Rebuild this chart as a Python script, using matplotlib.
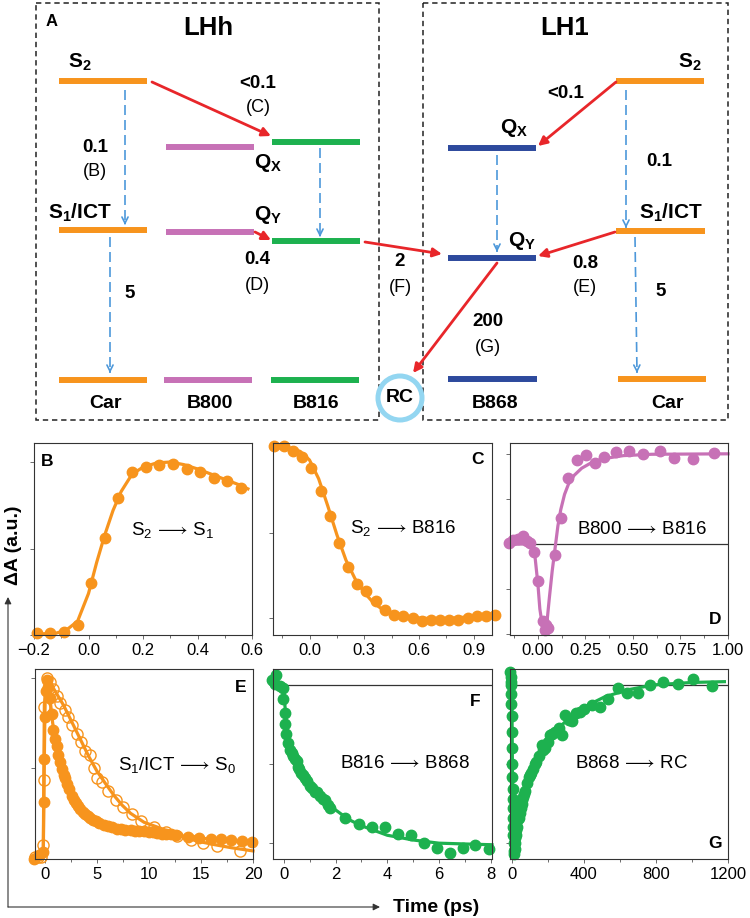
import matplotlib
matplotlib.use("Agg")
import matplotlib.pyplot as plt
from matplotlib.patches import Circle, Rectangle

plt.rcParams['font.family'] = ['Liberation Sans', 'DejaVu Sans']
plt.rcParams['mathtext.fontset'] = 'custom'
plt.rcParams['mathtext.rm'] = 'Liberation Sans'
plt.rcParams['mathtext.bf'] = 'Liberation Sans:bold'
plt.rcParams['mathtext.it'] = 'Liberation Sans:italic'
plt.rcParams['mathtext.fallback'] = 'stixsans'

ORANGE = '#f7941d'
PINK = '#c771b6'
GREEN = '#1db14f'
BLUE = '#2d4a9d'
RED = '#e8262a'
LBLUE = '#4d98da'
RCBLUE = '#93d6f1'

# ---- panel A: energy levels (pixel layout of the scheme) ----
levels = [  # x0, x1, y, colour
    (59, 147, 81, ORANGE), (59, 147, 230, ORANGE), (59, 147, 380, ORANGE),
    (166, 254, 147, PINK), (166, 254, 232, PINK), (164, 252, 380, PINK),
    (272, 360, 142, GREEN), (272, 360, 241, GREEN), (271, 359, 380, GREEN),
    (448, 536, 148, BLUE), (448, 536, 258, BLUE), (448, 537, 379, BLUE),
    (616, 704, 81, ORANGE), (616, 705, 231, ORANGE), (618, 706, 379, ORANGE),
]
red_arrows = [((152, 82), (271, 136)), ((255, 232), (271, 240)),
              ((365, 242), (442, 254)), ((616, 82), (538, 146)),
              ((615, 232), (538, 256)), ((497, 263), (413, 373))]
blue_arrows = [((125, 90), (125, 225)), ((110, 237), (110, 373)),
               ((320, 148), (320, 237)), ((497, 155), (497, 252)),
               ((626, 90), (626, 228)), ((635, 237), (637, 373))]
bold_labels = [('A', 52, 22, 12), ('LHh', 208, 28, 18.5), ('LH1', 565, 28, 18.5),
               (r'$\mathbf{S_2}$', 80, 62, 15), (r'$\mathbf{S_1/ICT}$', 80, 213, 15),
               (r'$\mathbf{Q_X}$', 268, 163, 15), (r'$\mathbf{Q_Y}$', 268, 215, 15),
               (r'$\mathbf{S_2}$', 690, 62, 15), (r'$\mathbf{S_1/ICT}$', 671, 213, 15),
               (r'$\mathbf{Q_X}$', 514, 128, 15), (r'$\mathbf{Q_Y}$', 522, 241, 15),
               ('<0.1', 258, 83, 13.5), ('0.1', 95, 148, 13.5), ('0.4', 257, 260, 13.5),
               ('5', 130, 293, 13.5), ('2', 400, 262, 13.5), ('<0.1', 566, 93, 13.5),
               ('0.1', 659, 161, 13.5), ('0.8', 585, 263, 13.5), ('5', 661, 292, 13.5),
               ('200', 488, 322, 13.5),
               ('Car', 105, 403, 14), ('B800', 210, 403, 14), ('B816', 316, 403, 14),
               ('RC', 400, 398, 14), ('B868', 495, 403, 14), ('Car', 667, 403, 14)]
plain_labels = [('(C)', 258, 108), ('(B)', 95, 172), ('(D)', 257, 285),
                ('(F)', 400, 287), ('(E)', 585, 288), ('(G)', 488, 347)]

# ---- kinetic traces ----
b_t = [-0.19, -0.14, -0.09, -0.04, 0.01, 0.06, 0.11, 0.16, 0.21, 0.26, 0.31, 0.36, 0.41, 0.46, 0.51, 0.56]
b_v = [0.01, 0.01, 0.02, 0.06, 0.30, 0.56, 0.79, 0.94, 0.97, 0.98, 0.99, 0.96, 0.94, 0.91, 0.89, 0.85]
bfit_t = [-0.2, -0.12, -0.08, -0.04, 0.0, 0.03, 0.06, 0.09, 0.12, 0.16, 0.2, 0.25, 0.3, 0.35, 0.4, 0.45, 0.5, 0.55, 0.585]
bfit_v = [0.005, 0.01, 0.03, 0.08, 0.24, 0.42, 0.58, 0.72, 0.83, 0.93, 0.97, 0.995, 1.0, 0.985, 0.96, 0.93, 0.9, 0.87, 0.845]

c_t = [-0.193, -0.141, -0.090, -0.040, 0.009, 0.061, 0.110, 0.161, 0.211, 0.262, 0.312, 0.363, 0.413,
       0.464, 0.514, 0.565, 0.615, 0.666, 0.716, 0.767, 0.816, 0.868, 0.918, 0.969, 1.018]
c_v = [1.01, 1.01, 0.98, 0.95, 0.88, 0.75, 0.60, 0.44, 0.30, 0.20, 0.16, 0.10, 0.05,
       0.02, 0.01, 0.0, -0.02, -0.01, -0.01, -0.01, -0.01, 0.0, 0.01, 0.01, 0.02]
cfit_t = [-0.2, -0.1, -0.05, 0.0, 0.05, 0.1, 0.15, 0.2, 0.25, 0.3, 0.35, 0.4, 0.5, 0.6, 0.7, 0.8, 0.9, 1.0]
cfit_v = [1.0, 1.0, 0.98, 0.93, 0.82, 0.66, 0.49, 0.34, 0.23, 0.15, 0.09, 0.05, 0.015, 0.0, -0.005, 0.0, 0.01, 0.025]

d_t = [-0.151, -0.130, -0.104, -0.081, -0.060, -0.042, -0.019, 0.002, 0.028, 0.035, 0.045, 0.054, 0.089,
       0.119, 0.160, 0.204, 0.253, 0.300, 0.347, 0.409, 0.481, 0.551, 0.642, 0.716, 0.818, 0.928]
d_v = [0.01, 0.04, 0.06, 0.09, 0.03, 0.01, -0.09, -0.41, -0.86, -0.95, -0.90, -0.93, -0.12,
       0.29, 0.73, 0.93, 0.99, 0.90, 0.97, 1.02, 1.03, 1.00, 1.03, 0.95, 0.94, 1.01]
dfit_t = [-0.15, -0.03, -0.015, 0.0, 0.01, 0.025, 0.035, 0.045, 0.06, 0.075, 0.09, 0.105,
          0.12, 0.14, 0.16, 0.19, 0.23, 0.28, 0.34, 0.45, 0.6, 1.0]
dfit_v = [0.0, 0.0, -0.15, -0.45, -0.72, -0.93, -0.98, -0.92, -0.6, -0.3, -0.05, 0.2,
          0.38, 0.55, 0.66, 0.76, 0.84, 0.9, 0.945, 0.98, 0.995, 1.0]

ef_t = [-1.1, -0.6, -0.2, -0.15, -0.1, -0.05, 0.05, 0.18, 0.3, 0.44, 0.6, 0.76, 0.9, 1.09, 1.25, 1.41,
        1.6, 1.75, 1.9, 2.1, 2.3, 2.54, 2.75, 2.95, 3.15, 3.35, 3.6, 3.85, 4.1, 4.32, 4.6, 4.9, 5.2,
        5.6, 6.0, 6.4, 6.9, 7.3, 7.7, 8.2, 8.6, 9.0, 9.5, 10.0, 10.4, 10.8, 11.2, 11.6, 12.1, 12.6,
        13.7, 14.8, 16.0, 16.9, 17.9, 18.9, 19.9]
ef_v = [-0.01, 0.01, 0.03, 0.31, 0.55, 0.78, 0.93, 0.99, 0.95, 0.89, 0.80, 0.71, 0.66, 0.62, 0.57, 0.53,
        0.49, 0.46, 0.44, 0.41, 0.38, 0.34, 0.32, 0.30, 0.285, 0.27, 0.255, 0.24, 0.23, 0.22, 0.21, 0.20, 0.19,
        0.18, 0.173, 0.167, 0.16, 0.157, 0.154, 0.15, 0.148, 0.146, 0.145, 0.142, 0.139, 0.135, 0.132, 0.13,
        0.127, 0.124, 0.11, 0.105, 0.10, 0.10, 0.098, 0.09, 0.086]
effit_t = [-1.0, -0.2, -0.15, -0.1, -0.05, 0.0, 0.18, 0.4, 0.7, 1.0, 1.4, 1.9, 2.5, 3.2, 4.0,
           5.0, 6.0, 7.0, 8.0, 10.0, 12.0, 14.0, 16.0, 18.0, 20.0]
effit_v = [0.0, 0.02, 0.3, 0.55, 0.78, 0.93, 0.99, 0.91, 0.75, 0.64, 0.54, 0.44, 0.35, 0.28, 0.23,
           0.19, 0.17, 0.158, 0.15, 0.14, 0.127, 0.112, 0.1, 0.09, 0.082]
eo_t = [-1.0, -0.7, -0.4, -0.2, -0.15, -0.1, 0.15, 0.45, 0.75, 1.1, 1.45, 1.85, 2.2, 2.6, 3.0, 3.4, 3.8,
        4.3, 4.7, 5.0, 5.5, 6.0, 6.8, 7.5, 8.3, 9.2, 10.5, 11.6, 12.7, 14.0, 15.2, 16.5, 18.7]
eo_v = [0.0, 0.0, 0.0, 0.07, 0.43, 0.84, 1.0, 0.98, 0.94, 0.90, 0.86, 0.82, 0.78, 0.74, 0.69, 0.64, 0.59,
        0.57, 0.50, 0.44, 0.42, 0.37, 0.32, 0.28, 0.24, 0.20, 0.17, 0.14, 0.12, 0.095, 0.08, 0.06, 0.035]
eofit_t = [-1.0, -0.2, -0.1, 0.15, 0.5, 1.0, 1.73, 2.5, 3.35, 4.2, 4.97, 5.8, 6.6, 7.4, 8.2, 9.5,
           11.4, 13.0, 14.6, 16.3, 17.9, 20.0]
eofit_v = [0.0, 0.05, 0.85, 1.0, 0.97, 0.92, 0.85, 0.76, 0.66, 0.56, 0.48, 0.41, 0.345, 0.29, 0.245, 0.195,
           0.155, 0.12, 0.09, 0.07, 0.053, 0.035]

f_t = [-0.47, -0.35, -0.32, -0.15, -0.03, -0.03, 0.04, 0.06, 0.10, 0.17, 0.23, 0.30, 0.36, 0.45, 0.49,
       0.55, 0.60, 0.66, 0.75, 0.81, 0.90, 1.0, 1.1, 1.2, 1.3, 1.39, 1.5, 1.58, 1.7, 1.78, 2.36, 2.91,
       3.41, 3.93, 4.41, 4.9, 5.42, 5.92, 6.44, 6.92, 7.41, 7.92]
f_v = [0.03, 0.006, 0.064, -0.01, -0.02, -0.09, -0.18, -0.25, -0.31, -0.37, -0.41, -0.43, -0.45, -0.47, -0.48,
       -0.52, -0.53, -0.56, -0.57, -0.59, -0.61, -0.64, -0.65, -0.68, -0.68, -0.70, -0.72, -0.73, -0.76, -0.78,
       -0.84, -0.88, -0.90, -0.90, -0.94, -0.95, -1.0, -1.03, -1.06, -1.03, -1.01, -1.04]
ffit_t = [-0.42, -0.1, 0.0, 0.05, 0.1, 0.2, 0.4, 0.6, 0.8, 1.0, 1.5, 2.0, 2.5, 3.0, 3.5, 4.0, 5.0, 6.0, 7.0, 8.05]
ffit_v = [0.0, 0.0, -0.04, -0.15, -0.27, -0.37, -0.46, -0.53, -0.59, -0.63, -0.72, -0.79, -0.85, -0.89,
          -0.92, -0.95, -0.98, -1.0, -1.005, -1.01]

g_t = [-8, -6, -5, -4, -3, -2, -1, 0, 1, 2, 3, 4, 5, 6, 7, 8, 9, 10, 12, 14, 16, 18, 20, 23, 26, 30, 35,
       40, 45, 50, 54, 58, 63, 68, 76, 85, 94, 100, 109, 120, 130, 137, 150, 165, 175, 187, 200, 211,
       225, 239, 260, 276, 298, 315, 332, 359, 380, 402, 446, 489, 535, 587, 637, 702, 767, 840, 920,
       1007, 1109]
g_v = [0.08, 0.05, 0.02, 0.0, -0.06, -0.12, -0.2, -0.3, -0.4, -0.5, -0.58, -0.66, -0.72, -0.78, -0.84,
       -0.9, -0.95, -1.0, -1.05, -1.07, -1.04, -1.0, -0.97, -0.95, -0.92, -0.9, -0.85, -0.84, -0.81, -0.78,
       -0.75, -0.73, -0.71, -0.69, -0.67, -0.62, -0.58, -0.57, -0.56, -0.53, -0.5, -0.49, -0.45, -0.38,
       -0.41, -0.40, -0.36, -0.32, -0.31, -0.30, -0.27, -0.32, -0.19, -0.22, -0.23, -0.18, -0.17, -0.15,
       -0.13, -0.14, -0.09, -0.02, -0.05, -0.05, 0.0, 0.02, 0.006, 0.036, -0.006]
gfit_t = [-10, 0, 3, 6, 10, 15, 20, 35, 72, 100, 145, 200, 260, 332, 420, 517, 650, 790, 1000, 1180]
gfit_v = [0.0, 0.0, -0.45, -0.8, -1.0, -1.05, -1.0, -0.83, -0.65, -0.55, -0.45, -0.35, -0.27, -0.2,
          -0.13, -0.075, -0.03, 0.0, 0.015, 0.02]

W, H = 750, 918
fig = plt.figure(figsize=(W / 100, H / 100), dpi=100)


def fpos(x, y):
    return x / W, 1 - y / H


# overlay axes in pixel units for the scheme and outer axis arrows
ax0 = fig.add_axes([0, 0, 1, 1])
ax0.set_xlim(0, W)
ax0.set_ylim(H, 0)
ax0.axis('off')

for x0, y0, x1, y1 in [(36, 3, 379, 420), (423, 3, 728, 420)]:
    ax0.add_patch(Rectangle((x0, y0), x1 - x0, y1 - y0, fill=False, ec='#222222',
                            lw=1.1, ls=(0, (3.5, 2.5))))
for x0, x1, y, c in levels:
    ax0.plot([x0, x1], [y, y], color=c, lw=4.3, solid_capstyle='butt')
for (xs, ys), (xe, ye) in red_arrows:
    ax0.annotate('', xy=(xe, ye), xytext=(xs, ys),
                 arrowprops=dict(arrowstyle='-|>', color=RED, lw=2, mutation_scale=13,
                                 shrinkA=0, shrinkB=0))
for (xs, ys), (xe, ye) in blue_arrows:
    ax0.plot([xs, xe], [ys, ye], color=LBLUE, lw=1.2, ls=(0, (6, 3)))
    ax0.annotate('', xy=(xe, ye), xytext=(xe - (xe - xs) * 0.02, ye - 2),
                 arrowprops=dict(arrowstyle='->', color=LBLUE, lw=1.2, mutation_scale=11,
                                 shrinkA=0, shrinkB=0))
ax0.add_patch(Circle((400, 398), 22, fc='white', ec=RCBLUE, lw=3.6, zorder=5))
for s, x, y, fs in bold_labels:
    ax0.text(x, y, s, ha='center', va='center', fontsize=fs, fontweight='bold', zorder=6)
for s, x, y in plain_labels:
    ax0.text(x, y, s, ha='center', va='center', fontsize=13)

# outer axis arrows
ax0.annotate('', xy=(8, 597), xytext=(8, 907),
             arrowprops=dict(arrowstyle='-|>', color='#333333', lw=0.8, mutation_scale=10,
                             shrinkA=0, shrinkB=0))
ax0.annotate('', xy=(380, 907), xytext=(8, 907),
             arrowprops=dict(arrowstyle='-|>', color='#333333', lw=0.8, mutation_scale=10,
                             shrinkA=0, shrinkB=0))
ax0.text(393, 907, 'Time (ps)', ha='left', va='center', fontsize=14, fontweight='bold')
ax0.text(14, 545, 'ΔA (a.u.)', ha='center', va='center', fontsize=14, fontweight='bold',
         rotation=90)


def panel(x0, y0, x1, y1):
    l, b = fpos(x0, y1)
    return fig.add_axes([l, b, (x1 - x0) / W, (y1 - y0) / H])


def style(ax, xlim, ylim, xticks, xlabels, xminor, yticks):
    ax.set_xlim(xlim)
    ax.set_ylim(ylim)
    ax.set_xticks(xticks)
    ax.set_xticklabels(xlabels)
    ax.set_xticks(xminor, minor=True)
    ax.set_yticks(yticks)
    ax.set_yticklabels([])
    ax.tick_params(direction='out', length=3, width=0.6, labelsize=12, color='#555555', pad=3)
    ax.tick_params(which='minor', direction='out', length=2, width=0.6, color='#555555')
    for sp in ax.spines.values():
        sp.set_linewidth(0.8)
        sp.set_color('#333333')


MS = 7.5
LW = 2.3

axB = panel(34, 443, 252, 635)
axB.plot(bfit_t, bfit_v, color=ORANGE, lw=LW, clip_on=False)
axB.plot(b_t, b_v, 'o', color=ORANGE, ms=MS, clip_on=False)
style(axB, (-0.2, 0.6), (0.0, 1.11), [-0.2, 0.0, 0.2, 0.4, 0.6],
      ['\u22120.2', '0.0', '0.2', '0.4', '0.6'], [-0.1, 0.1, 0.3, 0.5], [0, 0.5, 1])

axC = panel(273, 443, 492, 635)
axC.plot(cfit_t, cfit_v, color=ORANGE, lw=LW, clip_on=False)
axC.plot(c_t, c_v, 'o', color=ORANGE, ms=MS, clip_on=False)
style(axC, (-0.2, 1.0), (-0.1, 1.03), [0.0, 0.3, 0.6, 0.9],
      ['0.0', '0.3', '0.6', '0.9'], [-0.15, 0.15, 0.45, 0.75], [0, 0.5, 1])

axD = panel(510, 443, 728, 635)
axD.axhline(0, color='#333333', lw=0.9)
axD.plot(dfit_t, dfit_v, color=PINK, lw=LW, clip_on=False)
axD.plot(d_t, d_v, 'o', color=PINK, ms=MS, clip_on=False)
style(axD, (-0.147, 1.0), (-1.01, 1.12), [0.0, 0.25, 0.5, 0.75, 1.0],
      ['0.00', '0.25', '0.50', '0.75', '1.00'], [-0.125, 0.125, 0.375, 0.625, 0.875],
      [-1, -0.5, 0, 0.5, 1])

axE = panel(35, 669, 253, 859)
axE.plot(eofit_t, eofit_v, color=ORANGE, lw=LW, clip_on=False)
axE.plot(effit_t, effit_v, color=ORANGE, lw=LW, clip_on=False)
axE.plot(eo_t, eo_v, 'o', mfc='none', mec=ORANGE, mew=1.0, ms=MS + 0.5, clip_on=False)
axE.plot(ef_t, ef_v, 'o', color=ORANGE, ms=MS, clip_on=False)
style(axE, (-1.0, 20.0), (-0.01, 1.05), [0, 5, 10, 15, 20],
      ['0', '5', '10', '15', '20'], [2.5, 7.5, 12.5, 17.5], [0, 0.5, 1])

axF = panel(273, 669, 492, 859)
axF.axhline(0, color='#333333', lw=0.9)
axF.plot(ffit_t, ffit_v, color=GREEN, lw=LW, clip_on=False)
axF.plot(f_t, f_v, 'o', color=GREEN, ms=MS, clip_on=False)
style(axF, (-0.42, 8.05), (-1.1, 0.1), [0, 2, 4, 6, 8],
      ['0', '2', '4', '6', '8'], [1, 3, 5, 7], [-1, -0.5, 0])

axG = panel(510, 669, 728, 859)
axG.axhline(0, color='#333333', lw=0.9)
axG.plot(gfit_t, gfit_v, color=GREEN, lw=LW, clip_on=False)
axG.plot(g_t, g_v, 'o', color=GREEN, ms=MS, clip_on=False)
style(axG, (-10, 1200), (-1.1, 0.1), [0, 400, 800, 1200],
      ['0', '400', '800', '1200'], [200, 600, 1000], [-1, -0.5, 0])

# panel letters and transition labels
for s, x, y in [('B', 47, 462), ('C', 477, 460), ('D', 715, 620),
                ('E', 241, 688), ('F', 475, 702), ('G', 715, 843)]:
    fig.text(*fpos(x, y), s, ha='center', va='center', fontsize=12.5, fontweight='bold')
for s, x, y in [(r'S$_2$$\,\longrightarrow\,$S$_1$', 172, 530),
                (r'S$_2$$\,\longrightarrow\,$B816', 403, 528),
                (r'B800$\,\longrightarrow\,$B816', 642, 530),
                (r'S$_1$/ICT$\,\longrightarrow\,$S$_0$', 177, 765),
                (r'B816$\,\longrightarrow\,$B868', 405, 763),
                (r'B868$\,\longrightarrow\,$RC', 632, 763)]:
    fig.text(*fpos(x, y), s, ha='center', va='center', fontsize=13.5)

fig.savefig('out.png', dpi=100)
